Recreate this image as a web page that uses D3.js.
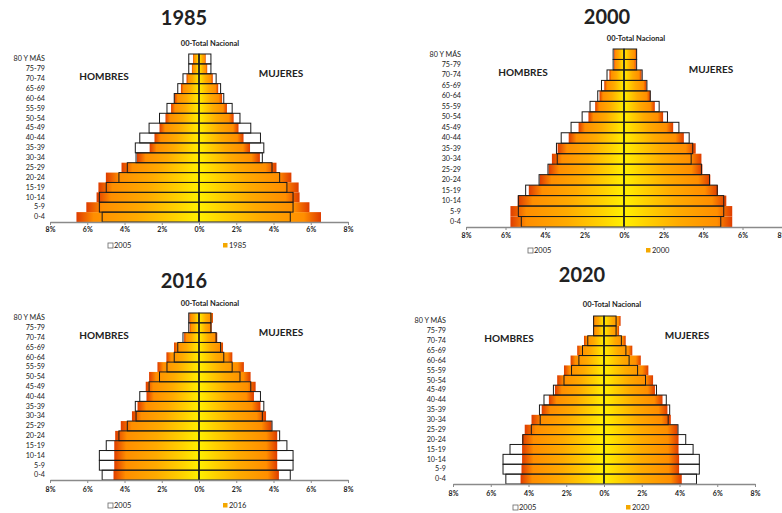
<!DOCTYPE html>
<html>
<head>
<meta charset="utf-8">
<script src="https://cdn.jsdelivr.net/npm/d3@7"></script>
<style>
  body { margin: 0; background: #fff; }
  svg text { font-family: Lato, "Open Sans", sans-serif; fill: #222; }
</style>
</head>
<body>
<div id="chart"></div>
<script>
// age groups, bottom to top
const ages = ["0-4", "5-9", "10-14", "15-19", "20-24", "25-29", "30-34", "35-39", "40-44",
  "45-49", "50-54", "55-59", "60-64", "65-69", "70-74", "75-79", "80 Y MÁS"];
const tickValues = [-8, -6, -4, -2, 0, 2, 4, 6, 8];

// reference year (outline bars), % of total population
const men2005 = [5.2, 5.35, 5.35, 4.98, 4.3, 3.85, 3.38, 3.42, 3.18, 2.68, 2.12, 1.72, 1.33, 1.14, 0.86, 0.55, 0.55];
const women2005 = [4.9, 5.05, 5.05, 4.72, 4.33, 3.92, 3.4, 3.48, 3.3, 2.78, 2.2, 1.78, 1.33, 1.16, 0.92, 0.64, 0.64];

const men1985 = [6.58, 6.05, 5.5, 5.4, 5.0, 4.16, 3.33, 2.65, 2.39, 2.12, 1.8, 1.5, 1.33, 0.97, 0.67, 0.38, 0.32];
const women1985 = [6.55, 5.93, 5.4, 5.35, 4.96, 4.16, 3.27, 2.74, 2.39, 2.12, 1.86, 1.5, 1.24, 1.03, 0.74, 0.44, 0.36];

const men2000 = [5.75, 5.75, 5.38, 4.82, 4.27, 3.82, 3.65, 3.36, 2.8, 2.3, 1.8, 1.46, 1.24, 1.0, 0.74, 0.5, 0.5];
const women2000 = [5.48, 5.48, 5.18, 4.76, 4.37, 3.97, 3.92, 3.63, 3.03, 2.49, 1.98, 1.56, 1.34, 1.14, 0.89, 0.6, 0.64];

const men2016 = [4.59, 4.55, 4.55, 4.55, 4.5, 4.2, 3.6, 3.3, 2.82, 2.86, 2.68, 2.23, 1.75, 1.34, 0.8, 0.5, 0.52];
const women2016 = [4.29, 4.2, 4.2, 4.2, 4.2, 3.9, 3.6, 3.3, 2.95, 3.04, 2.77, 2.41, 1.79, 1.29, 0.98, 0.68, 0.75];

const men2020 = [4.42, 4.37, 4.34, 4.34, 4.34, 4.2, 3.84, 3.3, 2.92, 2.6, 2.48, 2.12, 1.77, 1.42, 1.06, 0.58, 0.58];
const women2020 = [4.12, 3.98, 3.98, 3.95, 3.95, 3.9, 3.54, 3.36, 3.1, 2.7, 2.6, 2.35, 1.95, 1.5, 1.15, 0.8, 0.88];

// layout of the four pyramids
const panels = [
  { year: "1985", men: men1985, women: women1985, xr: [50, 348], top: 54, axisY: 222, labelX: 45,
    title: [184, 25], sub: [210, 46], hom: [104, 80], muj: [281, 77], tickY: 232, legY: 248, leg: [108, 223] },
  { year: "2000", men: men2000, women: women2000, xr: [466, 782], top: 49, axisY: 227, labelX: 461,
    title: [607, 24], sub: [636, 41], hom: [523, 76], muj: [711, 73], tickY: 238, legY: 253, leg: [528, 646] },
  { year: "2016", men: men2016, women: women2016, xr: [50, 348], top: 313, axisY: 480, labelX: 45,
    title: [184, 288], sub: [210, 306], hom: [104, 339], muj: [281, 336], tickY: 492, legY: 508, leg: [108, 223] },
  { year: "2020", men: men2020, women: women2020, xr: [453, 755], top: 316, axisY: 484, labelX: 446,
    title: [582, 282], sub: [612, 307], hom: [509, 342], muj: [687, 339], tickY: 496, legY: 510, leg: [513, 626] }
];

const [W, H] = [782, 513];
const svg = d3.select("#chart").append("svg").attr("width", W).attr("height", H);

// gradients: yellow at the centre, red at the outer tip
const defs = svg.append("defs");
function addGrad(id, x1, x2) {
  const g = defs.append("linearGradient").attr("id", id)
    .attr("x1", x1).attr("x2", x2).attr("y1", 0).attr("y2", 0);
  [[0, "#fff000"], [0.2, "#ffd200"], [0.5, "#ffab00"], [0.86, "#ff8e00"], [1, "#de3c00"]]
    .forEach(([o, c]) => g.append("stop").attr("offset", o).attr("stop-color", c));
}
addGrad("gradR", 0, 1);
addGrad("gradL", 1, 0);

panels.forEach(renderPanel);

function renderPanel(p) {
  const g = svg.append("g");
  const x = d3.scaleLinear().domain([-8, 8]).range(p.xr);
  const y = d3.scaleBand().domain(ages).range([p.axisY, p.top]).padding(0);
  const idx = d3.range(ages.length);

  // title and subtitle
  g.append("text").attr("x", p.title[0]).attr("y", p.title[1]).attr("text-anchor", "middle")
    .style("font-size", "20px").style("font-weight", "bold").text(p.year);
  g.append("text").attr("x", p.sub[0]).attr("y", p.sub[1]).attr("text-anchor", "middle")
    .style("font-size", "7.5px").style("font-weight", "bold").text("00-Total Nacional");
  g.append("text").attr("x", p.hom[0]).attr("y", p.hom[1]).attr("text-anchor", "middle")
    .style("font-size", "10px").style("font-weight", "bold").text("HOMBRES");
  g.append("text").attr("x", p.muj[0]).attr("y", p.muj[1]).attr("text-anchor", "middle")
    .style("font-size", "10px").style("font-weight", "bold").text("MUJERES");

  // year bars
  g.selectAll(".m").data(idx).enter().append("rect")
    .attr("x", (i) => x(-p.men[i])).attr("width", (i) => x(0) - x(-p.men[i]))
    .attr("y", (i) => y(ages[i])).attr("height", y.bandwidth())
    .attr("fill", "url(#gradL)");
  g.selectAll(".f").data(idx).enter().append("rect")
    .attr("x", x(0)).attr("width", (i) => x(p.women[i]) - x(0))
    .attr("y", (i) => y(ages[i])).attr("height", y.bandwidth())
    .attr("fill", "url(#gradR)");

  // 2005 outline bars
  g.selectAll(".m05").data(idx).enter().append("rect")
    .attr("x", (i) => x(-men2005[i])).attr("width", (i) => x(0) - x(-men2005[i]))
    .attr("y", (i) => y(ages[i])).attr("height", y.bandwidth())
    .attr("fill", "none").attr("stroke", "#1a1a1a").attr("stroke-width", 1);
  g.selectAll(".f05").data(idx).enter().append("rect")
    .attr("x", x(0)).attr("width", (i) => x(women2005[i]) - x(0))
    .attr("y", (i) => y(ages[i])).attr("height", y.bandwidth())
    .attr("fill", "none").attr("stroke", "#1a1a1a").attr("stroke-width", 1);

  // centre line
  g.append("line").attr("x1", x(0)).attr("x2", x(0)).attr("y1", p.top).attr("y2", p.axisY)
    .attr("stroke", "#222").attr("stroke-width", 1.3);

  // x axis
  const xAxis = d3.axisBottom(x).tickValues(tickValues)
    .tickFormat((d) => Math.abs(d) + "%").tickSize(3).tickSizeOuter(0);
  const ax = g.append("g").attr("transform", `translate(0, ${p.axisY})`).call(xAxis);
  ax.select(".domain").attr("stroke", "#8a8a8a").attr("stroke-width", 1.5);
  ax.selectAll(".tick line").attr("stroke", "#8a8a8a");
  ax.selectAll(".tick text").attr("y", p.tickY - p.axisY).attr("dy", 0)
    .style("font-size", "7px").style("font-weight", "bold")
    .style("font-family", "Lato, sans-serif").attr("fill", "#444");

  // age labels
  const yAxis = d3.axisLeft(y).tickSize(0).tickPadding(0);
  const ay = g.append("g").attr("transform", `translate(${p.labelX}, 0)`).call(yAxis);
  ay.select(".domain").remove();
  ay.selectAll(".tick text").style("font-size", "7.2px").style("font-family", "Lato, sans-serif")
    .attr("fill", "#333");

  // legend
  g.append("rect").attr("x", p.leg[0]).attr("y", p.legY - 5).attr("width", 5).attr("height", 5)
    .attr("fill", "#fff").attr("stroke", "#666").attr("stroke-width", 0.8);
  g.append("text").attr("x", p.leg[0] + 6).attr("y", p.legY).style("font-size", "7.5px")
    .attr("fill", "#333").text("2005");
  g.append("rect").attr("x", p.leg[1]).attr("y", p.legY - 5).attr("width", 4.5).attr("height", 4.5)
    .attr("fill", "#f4a800");
  g.append("text").attr("x", p.leg[1] + 6).attr("y", p.legY).style("font-size", "7.5px")
    .attr("fill", "#333").text(p.year);
}
</script>
</body>
</html>
